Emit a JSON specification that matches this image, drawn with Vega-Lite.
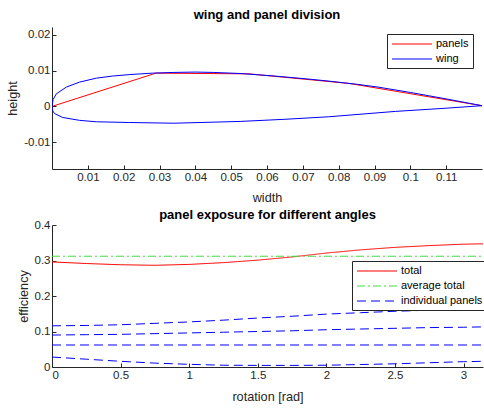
{
  "$schema": "https://vega.github.io/schema/vega-lite/v6.json",
  "padding": {"left": 6, "top": 9, "right": 0, "bottom": 0},
  "config": {
    "font": "Liberation Sans",
    "view": {"stroke": null},
    "axis": {
      "grid": false,
      "domainColor": "#262626",
      "tickColor": "#262626",
      "labelColor": "#262626",
      "titleColor": "#262626",
      "labelFont": "Liberation Sans",
      "titleFont": "Liberation Sans",
      "labelFontSize": 11.5,
      "titleFontSize": 12.7,
      "titleFontWeight": "normal",
      "tickSize": -4,
      "labelPadding": 6,
      "domainWidth": 1,
      "tickWidth": 1
    },
    "title": {"fontSize": 13, "fontWeight": "bold", "color": "#000000", "offset": 5, "font": "Liberation Sans"},
    "legend": {
      "orient": "none",
      "title": null,
      "strokeColor": "#262626",
      "fillColor": "white",
      "padding": 4,
      "symbolType": "M-4,0H4",
      "symbolSize": 100,
      "symbolOffset": 15,
      "symbolStrokeWidth": 1.2,
      "labelFontSize": 11,
      "labelOffset": 18,
      "labelColor": "#000000",
      "rowPadding": 4
    },
    "concat": {"spacing": 4}
  },
  "resolve": {
    "scale": {"color": "independent", "strokeDash": "independent"},
    "legend": {"color": "independent", "strokeDash": "independent"}
  },
  "vconcat": [
    {
      "title": "wing and panel division",
      "width": 430,
      "height": 142,
      "data": {"values": [
        {"shape": "panels", "i": 0, "x": 0, "y": 0},
        {"shape": "panels", "i": 1, "x": 0.029, "y": 0.0093},
        {"shape": "panels", "i": 2, "x": 0.055, "y": 0.0091},
        {"shape": "panels", "i": 3, "x": 0.083, "y": 0.0064},
        {"shape": "panels", "i": 4, "x": 0.12, "y": 0.0002},
        {"shape": "wing", "i": 0, "x": 0.12, "y": 0.0002},
        {"shape": "wing", "i": 1, "x": 0.11, "y": 0.0021},
        {"shape": "wing", "i": 2, "x": 0.105, "y": 0.0030},
        {"shape": "wing", "i": 3, "x": 0.10, "y": 0.0039},
        {"shape": "wing", "i": 4, "x": 0.091, "y": 0.0054},
        {"shape": "wing", "i": 5, "x": 0.085, "y": 0.0062},
        {"shape": "wing", "i": 6, "x": 0.077, "y": 0.0071},
        {"shape": "wing", "i": 7, "x": 0.071, "y": 0.0077},
        {"shape": "wing", "i": 8, "x": 0.062, "y": 0.0085},
        {"shape": "wing", "i": 9, "x": 0.0525, "y": 0.0092},
        {"shape": "wing", "i": 10, "x": 0.045, "y": 0.0095},
        {"shape": "wing", "i": 11, "x": 0.040, "y": 0.0096},
        {"shape": "wing", "i": 12, "x": 0.034, "y": 0.0095},
        {"shape": "wing", "i": 13, "x": 0.028, "y": 0.0093},
        {"shape": "wing", "i": 14, "x": 0.0217, "y": 0.0089},
        {"shape": "wing", "i": 15, "x": 0.017, "y": 0.0085},
        {"shape": "wing", "i": 16, "x": 0.0124, "y": 0.0079},
        {"shape": "wing", "i": 17, "x": 0.0077, "y": 0.0068},
        {"shape": "wing", "i": 18, "x": 0.004, "y": 0.0054},
        {"shape": "wing", "i": 19, "x": 0.0012, "y": 0.0035},
        {"shape": "wing", "i": 20, "x": 0.0003, "y": 0.0019},
        {"shape": "wing", "i": 21, "x": 0, "y": 0},
        {"shape": "wing", "i": 22, "x": 0.0002, "y": -0.0012},
        {"shape": "wing", "i": 23, "x": 0.0007, "y": -0.0020},
        {"shape": "wing", "i": 24, "x": 0.003, "y": -0.0031},
        {"shape": "wing", "i": 25, "x": 0.0077, "y": -0.0039},
        {"shape": "wing", "i": 26, "x": 0.0124, "y": -0.0043},
        {"shape": "wing", "i": 27, "x": 0.0217, "y": -0.0045},
        {"shape": "wing", "i": 28, "x": 0.034, "y": -0.0047},
        {"shape": "wing", "i": 29, "x": 0.0525, "y": -0.0042},
        {"shape": "wing", "i": 30, "x": 0.065, "y": -0.0036},
        {"shape": "wing", "i": 31, "x": 0.0772, "y": -0.0029},
        {"shape": "wing", "i": 32, "x": 0.0958, "y": -0.0014},
        {"shape": "wing", "i": 33, "x": 0.11, "y": -0.0005},
        {"shape": "wing", "i": 34, "x": 0.12, "y": 0.0002}
      ]},
      "mark": {"type": "line", "strokeWidth": 1, "clip": true},
      "encoding": {
        "x": {"field": "x", "type": "quantitative",
          "scale": {"domain": [0, 0.12], "nice": false, "zero": false},
          "axis": {"title": "width", "values": [0.01, 0.02, 0.03, 0.04, 0.05, 0.06, 0.07, 0.08, 0.09, 0.1, 0.11], "format": ".2~f", "titlePadding": 9}},
        "y": {"field": "y", "type": "quantitative",
          "scale": {"domain": [-0.0175, 0.0222], "nice": false, "zero": false},
          "axis": {"title": "height", "values": [-0.01, 0, 0.01, 0.02], "labelExpr": "datum.value < 0 ? '-' + format(-datum.value, '.2~f') : format(datum.value, '.2~f')", "titlePadding": 4}},
        "color": {"field": "shape", "type": "nominal",
          "scale": {"domain": ["panels", "wing"], "range": ["#ff0000", "#0000ff"]},
          "legend": {"legendX": 335, "legendY": 7}},
        "order": {"field": "i", "type": "quantitative"}
      }
    },
    {
      "title": {"text": "panel exposure for different angles", "offset": -3},
      "width": 431,
      "height": 142,
      "data": {"values": [
        {"series": "total", "panel": "total", "rot": 0, "eff": 0.296},
        {"series": "total", "panel": "total", "rot": 0.25, "eff": 0.2915},
        {"series": "total", "panel": "total", "rot": 0.5, "eff": 0.288},
        {"series": "total", "panel": "total", "rot": 0.75, "eff": 0.2865},
        {"series": "total", "panel": "total", "rot": 1.0, "eff": 0.289},
        {"series": "total", "panel": "total", "rot": 1.25, "eff": 0.294},
        {"series": "total", "panel": "total", "rot": 1.5, "eff": 0.301},
        {"series": "total", "panel": "total", "rot": 1.75, "eff": 0.310},
        {"series": "total", "panel": "total", "rot": 2.0, "eff": 0.321},
        {"series": "total", "panel": "total", "rot": 2.25, "eff": 0.330},
        {"series": "total", "panel": "total", "rot": 2.5, "eff": 0.337},
        {"series": "total", "panel": "total", "rot": 2.75, "eff": 0.342},
        {"series": "total", "panel": "total", "rot": 3.0, "eff": 0.346},
        {"series": "total", "panel": "total", "rot": 3.1416, "eff": 0.347},
        {"series": "average total", "panel": "avg", "rot": 0, "eff": 0.312},
        {"series": "average total", "panel": "avg", "rot": 3.1416, "eff": 0.312},
        {"series": "individual panels", "panel": "p1", "rot": 0, "eff": 0.116},
        {"series": "individual panels", "panel": "p1", "rot": 0.25, "eff": 0.117},
        {"series": "individual panels", "panel": "p1", "rot": 0.5, "eff": 0.119},
        {"series": "individual panels", "panel": "p1", "rot": 0.75, "eff": 0.123},
        {"series": "individual panels", "panel": "p1", "rot": 1.0, "eff": 0.127},
        {"series": "individual panels", "panel": "p1", "rot": 1.25, "eff": 0.132},
        {"series": "individual panels", "panel": "p1", "rot": 1.5, "eff": 0.138},
        {"series": "individual panels", "panel": "p1", "rot": 1.75, "eff": 0.143},
        {"series": "individual panels", "panel": "p1", "rot": 2.0, "eff": 0.149},
        {"series": "individual panels", "panel": "p1", "rot": 2.25, "eff": 0.153},
        {"series": "individual panels", "panel": "p1", "rot": 2.5, "eff": 0.157},
        {"series": "individual panels", "panel": "p1", "rot": 2.75, "eff": 0.160},
        {"series": "individual panels", "panel": "p1", "rot": 3.0, "eff": 0.162},
        {"series": "individual panels", "panel": "p1", "rot": 3.1416, "eff": 0.163},
        {"series": "individual panels", "panel": "p2", "rot": 0, "eff": 0.090},
        {"series": "individual panels", "panel": "p2", "rot": 0.25, "eff": 0.091},
        {"series": "individual panels", "panel": "p2", "rot": 0.5, "eff": 0.092},
        {"series": "individual panels", "panel": "p2", "rot": 0.75, "eff": 0.094},
        {"series": "individual panels", "panel": "p2", "rot": 1.0, "eff": 0.096},
        {"series": "individual panels", "panel": "p2", "rot": 1.25, "eff": 0.098},
        {"series": "individual panels", "panel": "p2", "rot": 1.5, "eff": 0.100},
        {"series": "individual panels", "panel": "p2", "rot": 1.75, "eff": 0.102},
        {"series": "individual panels", "panel": "p2", "rot": 2.0, "eff": 0.105},
        {"series": "individual panels", "panel": "p2", "rot": 2.25, "eff": 0.107},
        {"series": "individual panels", "panel": "p2", "rot": 2.5, "eff": 0.109},
        {"series": "individual panels", "panel": "p2", "rot": 2.75, "eff": 0.111},
        {"series": "individual panels", "panel": "p2", "rot": 3.0, "eff": 0.112},
        {"series": "individual panels", "panel": "p2", "rot": 3.1416, "eff": 0.113},
        {"series": "individual panels", "panel": "p3", "rot": 0, "eff": 0.062},
        {"series": "individual panels", "panel": "p3", "rot": 1.0, "eff": 0.062},
        {"series": "individual panels", "panel": "p3", "rot": 2.0, "eff": 0.062},
        {"series": "individual panels", "panel": "p3", "rot": 3.1416, "eff": 0.062},
        {"series": "individual panels", "panel": "p4", "rot": 0, "eff": 0.028},
        {"series": "individual panels", "panel": "p4", "rot": 0.25, "eff": 0.022},
        {"series": "individual panels", "panel": "p4", "rot": 0.5, "eff": 0.016},
        {"series": "individual panels", "panel": "p4", "rot": 0.75, "eff": 0.011},
        {"series": "individual panels", "panel": "p4", "rot": 1.0, "eff": 0.0075},
        {"series": "individual panels", "panel": "p4", "rot": 1.25, "eff": 0.005},
        {"series": "individual panels", "panel": "p4", "rot": 1.5, "eff": 0.0045},
        {"series": "individual panels", "panel": "p4", "rot": 1.75, "eff": 0.0045},
        {"series": "individual panels", "panel": "p4", "rot": 2.0, "eff": 0.005},
        {"series": "individual panels", "panel": "p4", "rot": 2.25, "eff": 0.007},
        {"series": "individual panels", "panel": "p4", "rot": 2.5, "eff": 0.009},
        {"series": "individual panels", "panel": "p4", "rot": 2.75, "eff": 0.012},
        {"series": "individual panels", "panel": "p4", "rot": 3.0, "eff": 0.015},
        {"series": "individual panels", "panel": "p4", "rot": 3.1416, "eff": 0.016}
      ]},
      "mark": {"type": "line", "strokeWidth": 1, "clip": true},
      "encoding": {
        "x": {"field": "rot", "type": "quantitative",
          "scale": {"domain": [0, 3.1416], "nice": false, "zero": false},
          "axis": {"title": "rotation [rad]", "values": [0, 0.5, 1, 1.5, 2, 2.5, 3], "format": "~g", "titlePadding": 10}},
        "y": {"field": "eff", "type": "quantitative",
          "scale": {"domain": [0, 0.4], "nice": false},
          "axis": {"title": "efficiency", "values": [0, 0.1, 0.2, 0.3, 0.4], "format": "~g", "titlePadding": 4}},
        "color": {"field": "series", "type": "nominal",
          "scale": {"domain": ["total", "average total", "individual panels"], "range": ["#ff0000", "#44dd44", "#0000ff"]},
          "legend": {"legendX": 300, "legendY": 36}},
        "strokeDash": {"field": "series", "type": "nominal",
          "scale": {"domain": ["total", "average total", "individual panels"], "range": [[1, 0], [8, 3, 2, 3], [9, 5]]},
          "legend": {"legendX": 300, "legendY": 36}},
        "detail": {"field": "panel"}
      }
    }
  ]
}
